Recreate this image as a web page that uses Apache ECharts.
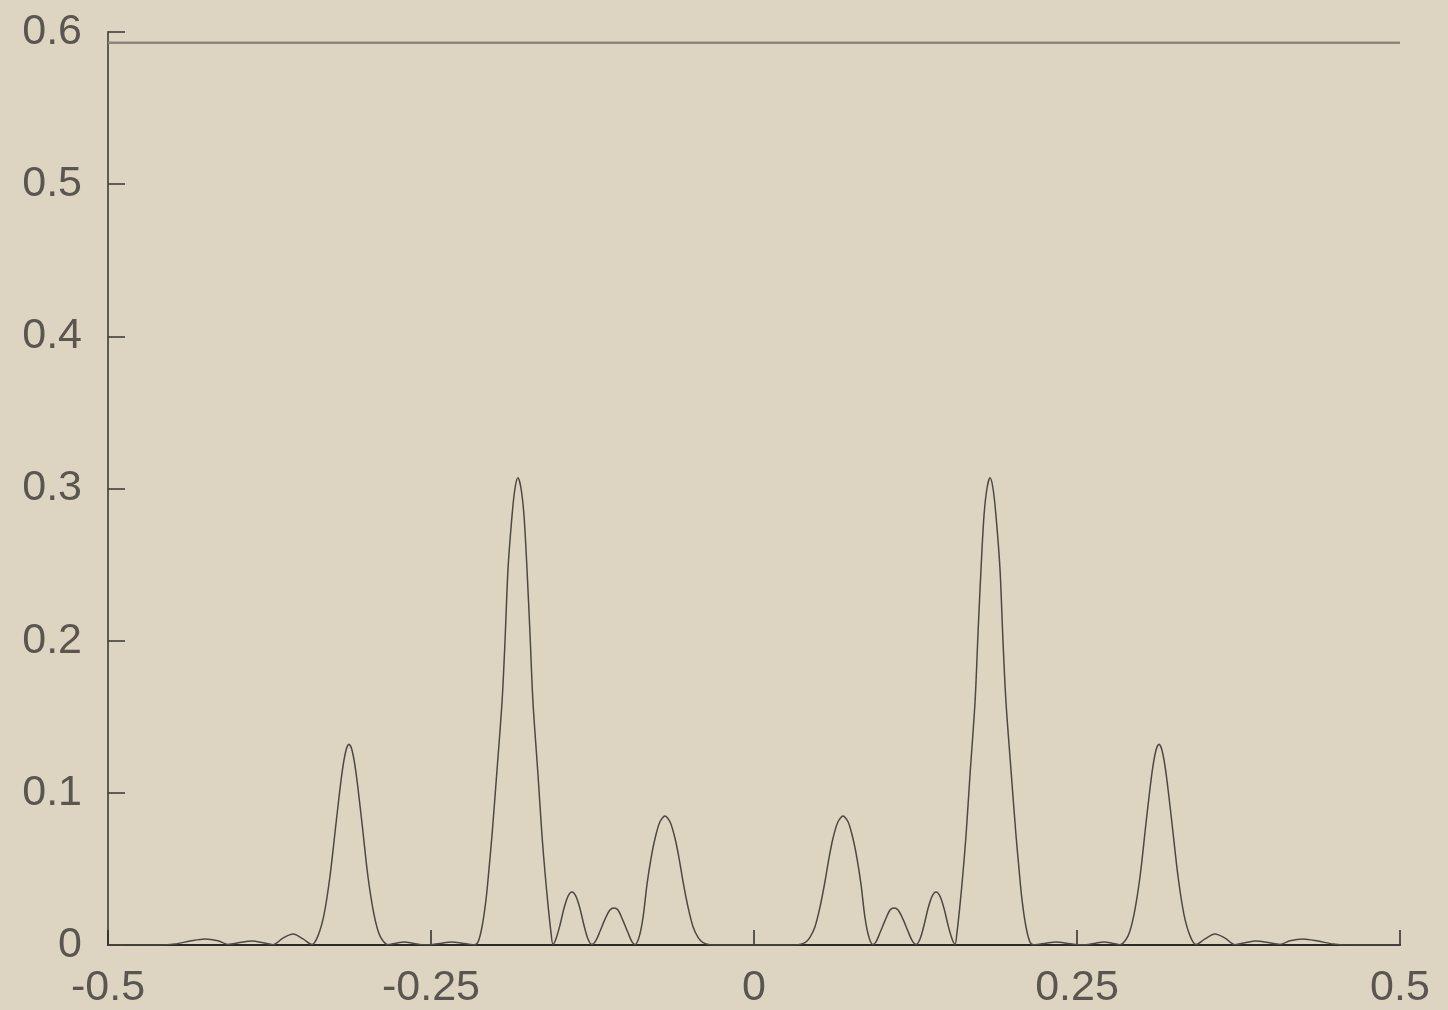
<!DOCTYPE html>
<html>
<head>
<meta charset="utf-8">
<script src="https://cdn.jsdelivr.net/npm/echarts@6/dist/echarts.min.js"></script>
<style>
  html, body { margin: 0; padding: 0; background: #ddd5c2; }
  #chart { width: 1448px; height: 1010px; }
</style>
</head>
<body>
<div id="chart"></div>
<script>
// ---- data ----
const leftX = [-0.5, -0.4598, -0.4481, -0.4365, -0.4249, -0.4149, -0.4071, -0.3978, -0.3885, -0.3800,
  -0.3723, -0.3646, -0.3568, -0.3491, -0.3421, -0.3375, -0.3328, -0.3282, -0.3235, -0.3189,
  -0.3158, -0.3135, -0.3111, -0.3080, -0.3034, -0.2988, -0.2941, -0.2895, -0.2833, -0.2771,
  -0.2709, -0.2632, -0.2546, -0.2446, -0.2337, -0.2260, -0.2167, -0.2136, -0.2105, -0.2074,
  -0.2051, -0.2028, -0.1989, -0.1950, -0.1927, -0.1904, -0.1873, -0.1850, -0.1827, -0.1803,
  -0.1780, -0.1757, -0.1734, -0.1711, -0.1672, -0.1641, -0.1618, -0.1594, -0.1571, -0.1556,
  -0.1533, -0.1502, -0.1471, -0.1440, -0.1409, -0.1378, -0.1347, -0.1316, -0.1285, -0.1254,
  -0.1223, -0.1192, -0.1153, -0.1115, -0.1084, -0.1053, -0.1014, -0.0975, -0.0944, -0.0921,
  -0.0890, -0.0859, -0.0828, -0.0797, -0.0766, -0.0728, -0.0689, -0.0650, -0.0611, -0.0580,
  -0.0550, -0.0511, -0.0472, -0.0433, -0.0395, -0.0341, -0.0263];
const leftY = [0, 0, 0.0006, 0.0026, 0.0040, 0.0028, 0.0004, 0.0016, 0.0026, 0.0015,
  0.0002, 0.0045, 0.0072, 0.0040, 0.0003, 0.006, 0.020, 0.045, 0.080, 0.113,
  0.128, 0.132, 0.128, 0.113, 0.080, 0.045, 0.020, 0.006, 0.0002, 0.0012,
  0.0020, 0.0010, 0.0001, 0.0008, 0.0020, 0.0012, 0.0001, 0.002, 0.012, 0.030,
  0.050, 0.072, 0.115, 0.160, 0.200, 0.247, 0.282, 0.300, 0.307, 0.300,
  0.282, 0.247, 0.205, 0.160, 0.112, 0.072, 0.048, 0.026, 0.008, 0.0005,
  0.004, 0.013, 0.024, 0.032, 0.0348, 0.032, 0.024, 0.013, 0.004, 0.0003,
  0.003, 0.009, 0.017, 0.023, 0.0243, 0.023, 0.016, 0.008, 0.002, 0.0003,
  0.005, 0.018, 0.040, 0.057, 0.070, 0.081, 0.0847, 0.081, 0.070, 0.057,
  0.042, 0.025, 0.012, 0.005, 0.0015, 0.0002, 0];
const rightX = [0.0263, 0.0341, 0.0395, 0.0433, 0.0472, 0.0511, 0.0550, 0.0580, 0.0611, 0.0650,
  0.0689, 0.0728, 0.0766, 0.0797, 0.0828, 0.0859, 0.0890, 0.0921, 0.0944, 0.0975,
  0.1014, 0.1053, 0.1084, 0.1115, 0.1153, 0.1192, 0.1223, 0.1254, 0.1285, 0.1316,
  0.1347, 0.1378, 0.1409, 0.1440, 0.1471, 0.1502, 0.1533, 0.1556, 0.1571, 0.1594,
  0.1618, 0.1641, 0.1672, 0.1711, 0.1734, 0.1757, 0.1780, 0.1803, 0.1827, 0.1850,
  0.1873, 0.1904, 0.1927, 0.1950, 0.1989, 0.2028, 0.2051, 0.2074, 0.2105, 0.2136,
  0.2167, 0.2260, 0.2337, 0.2446, 0.2546, 0.2632, 0.2709, 0.2771, 0.2833, 0.2895,
  0.2941, 0.2988, 0.3034, 0.3080, 0.3111, 0.3135, 0.3158, 0.3189, 0.3235, 0.3282,
  0.3328, 0.3375, 0.3421, 0.3491, 0.3568, 0.3646, 0.3723, 0.3800, 0.3885, 0.3978,
  0.4071, 0.4149, 0.4249, 0.4365, 0.4481, 0.4598, 0.5];
const rightY = [0, 0.0002, 0.0015, 0.005, 0.012, 0.025, 0.042, 0.057, 0.070, 0.081,
  0.0847, 0.081, 0.070, 0.057, 0.040, 0.018, 0.005, 0.0003, 0.002, 0.008,
  0.016, 0.023, 0.0243, 0.023, 0.017, 0.009, 0.003, 0.0003, 0.004, 0.013,
  0.024, 0.032, 0.0348, 0.032, 0.024, 0.013, 0.004, 0.0005, 0.008, 0.026,
  0.048, 0.072, 0.112, 0.160, 0.205, 0.247, 0.282, 0.300, 0.307, 0.300,
  0.282, 0.247, 0.200, 0.160, 0.115, 0.072, 0.050, 0.030, 0.012, 0.002,
  0.0001, 0.0012, 0.0020, 0.0008, 0.0001, 0.0010, 0.0020, 0.0012, 0.0002, 0.006,
  0.020, 0.045, 0.080, 0.113, 0.128, 0.132, 0.128, 0.113, 0.080, 0.045,
  0.020, 0.006, 0.0003, 0.0040, 0.0072, 0.0045, 0.0002, 0.0015, 0.0026, 0.0016,
  0.0004, 0.0028, 0.0040, 0.0026, 0.0006, 0, 0];
const refLineX = [-0.5, 0.5];
const refLineY = [0.593, 0.593];
const xTickLabels = ['-0.5', '-0.25', '0', '0.25', '0.5'];
const yTickLabels = ['0', '0.1', '0.2', '0.3', '0.4', '0.5', '0.6'];

// ---- build series data ----
const curveData = leftX.map((x, i) => [x, leftY[i]])
  .concat(rightX.map((x, i) => [x, rightY[i]]));
const refData = refLineX.map((x, i) => [x, refLineY[i]]);

const labelFont = { fontFamily: 'Liberation Sans, Arial, sans-serif', fontSize: 43, color: '#5a564f' };

const chart = echarts.init(document.getElementById('chart'), null, { renderer: 'canvas' });
chart.setOption({
  backgroundColor: '#ddd5c2',
  animation: false,
  grid: { left: 108, right: 48, top: 32, bottom: 64, containLabel: false },
  xAxis: {
    type: 'value', min: -0.5, max: 0.5, interval: 0.25,
    axisLine: { show: true, onZero: false, lineStyle: { color: '#2e2a25', width: 2 } },
    axisTick: { show: true, inside: true, length: 15, lineStyle: { color: '#2e2a25', width: 1.5 } },
    splitLine: { show: false },
    axisLabel: Object.assign({ margin: 22, formatter: (v) => {
      const idx = Math.round((v + 0.5) / 0.25);
      return xTickLabels[idx] !== undefined ? xTickLabels[idx] : '';
    } }, labelFont)
  },
  yAxis: {
    type: 'value', min: 0, max: 0.6, interval: 0.1,
    axisLine: { show: true, onZero: false, lineStyle: { color: '#5f5a52', width: 2 } },
    axisTick: { show: true, inside: true, length: 17, lineStyle: { color: '#3a3630', width: 1.5 } },
    splitLine: { show: false },
    axisLabel: Object.assign({ margin: 26, formatter: (v) => {
      const idx = Math.round(v / 0.1);
      return yTickLabels[idx] !== undefined ? yTickLabels[idx] : '';
    } }, labelFont)
  },
  series: [
    {
      type: 'line', data: refData, showSymbol: false, silent: true,
      lineStyle: { color: '#8d877b', width: 2.5 }
    },
    {
      type: 'line', data: curveData, showSymbol: false, silent: true,
      smooth: 0.3,
      lineStyle: { color: '#4d4942', width: 1.5 }
    }
  ]
});
</script>
</body>
</html>
